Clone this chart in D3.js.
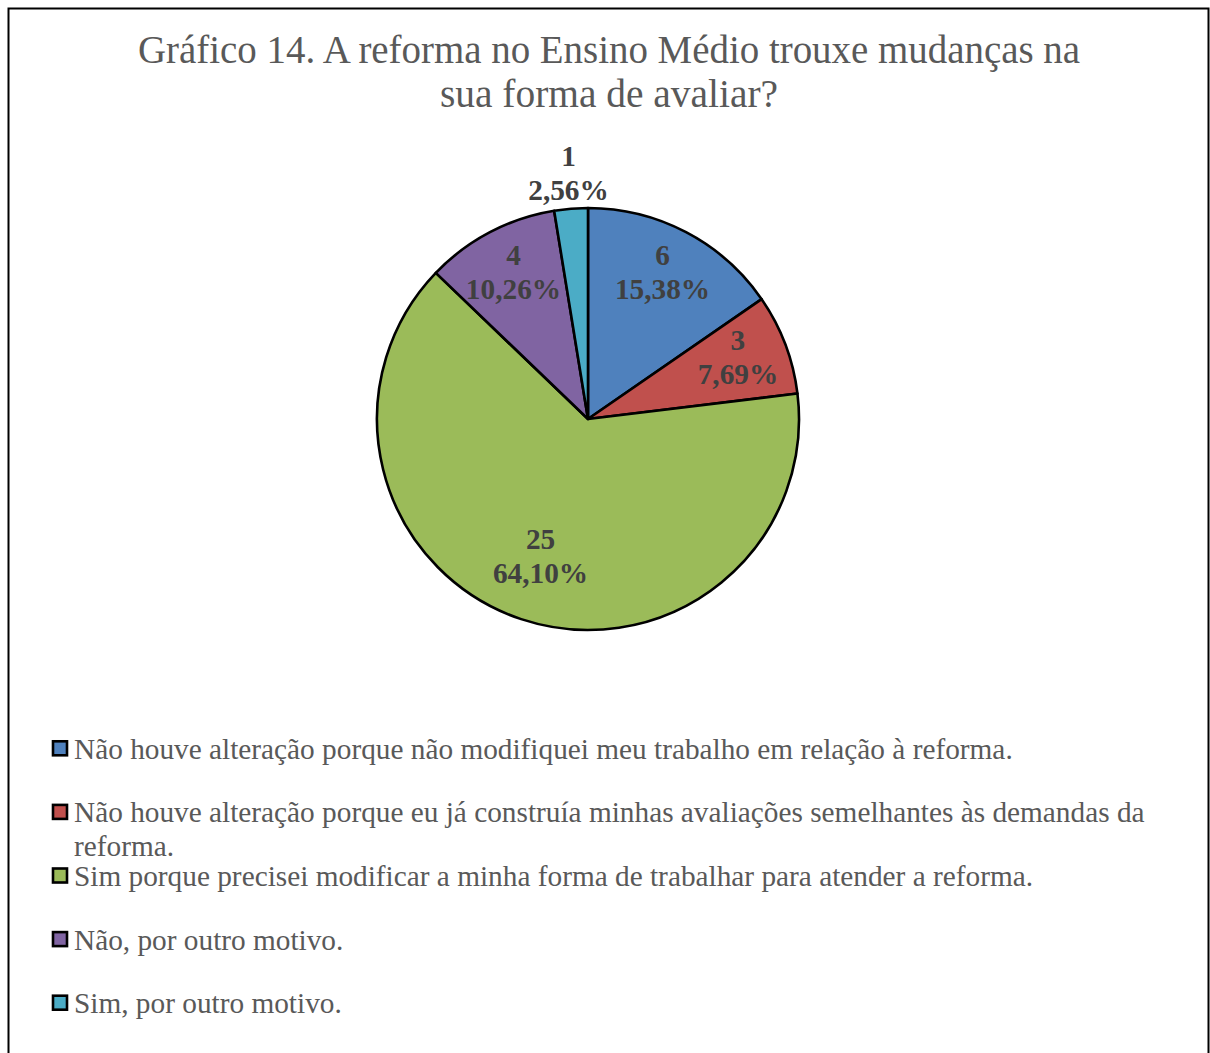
<!DOCTYPE html>
<html><head><meta charset="utf-8">
<script src="https://cdn.jsdelivr.net/npm/d3@7"></script>
<style>html,body{margin:0;padding:0;background:#fff;}</style>
</head><body>
<svg id="chart" width="1210" height="1053"></svg>
<script>
const titleLines = ["Gráfico 14. A reforma no Ensino Médio trouxe mudanças na", "sua forma de avaliar?"];
const categories = [
  "Não houve alteração porque não modifiquei meu trabalho em relação à reforma.",
  "Não houve alteração porque eu já construía minhas avaliações semelhantes às demandas da reforma.",
  "Sim porque precisei modificar a minha forma de trabalhar para atender a reforma.",
  "Não, por outro motivo.",
  "Sim, por outro motivo."
];
const counts = [6, 3, 25, 4, 1];
const percentLabels = ["15,38%", "7,69%", "64,10%", "10,26%", "2,56%"];
const colors = ["#4F81BD", "#C0504D", "#9BBB59", "#8064A2", "#4BACC6"];

const svg = d3.select("#chart");
svg.append("rect").attr("x", 8.5).attr("y", 8.5).attr("width", 1200).attr("height", 1060)
  .attr("fill", "#fff").attr("stroke", "#000").attr("stroke-width", 2);

// title
const titleWidths = [942, 338];
svg.selectAll("text.title").data(titleLines).join("text")
  .attr("class", "title")
  .attr("x", 609).attr("y", (d, i) => 63 + i * 44)
  .attr("text-anchor", "middle")
  .attr("font-family", "'Liberation Serif', serif")
  .attr("font-size", 40)
  .attr("fill", "#595959")
  .attr("textLength", (d, i) => titleWidths[i])
  .attr("lengthAdjust", "spacingAndGlyphs")
  .text(d => d);

// pie
const cx = 588, cy = 419, R = 211;
const total = d3.sum(counts);
const pie = d3.pie().sort(null).value(d => d)(counts);
const arc = d3.arc().innerRadius(0).outerRadius(R);
const g = svg.append("g").attr("transform", `translate(${cx},${cy})`);
g.selectAll("path").data(pie).join("path")
  .attr("d", arc)
  .attr("fill", (d, i) => colors[i])
  .attr("stroke", "#000").attr("stroke-width", 2.6).attr("stroke-linejoin", "round");

function labelRadius(d) {
  const share = d.value / total;
  if (share < 0.05) return R + 31;      // outside for tiny slices
  if (share > 0.5) return R * 0.71;     // large slice sits a little inward
  return R * 0.76;
}
const labels = g.selectAll("g.lbl").data(pie).join("g").attr("class", "lbl")
  .attr("transform", d => {
    const r = labelRadius(d);
    const c = d3.arc().innerRadius(r).outerRadius(r).centroid(d);
    return `translate(${c[0]},${c[1]})`;
  });
labels.append("text").attr("y", -12).attr("text-anchor", "middle")
  .attr("font-family", "'Liberation Serif', serif").attr("font-weight", "bold")
  .attr("font-size", 29.3).attr("fill", "#404040")
  .text((d, i) => counts[i]);
labels.append("text").attr("y", 22).attr("text-anchor", "middle")
  .attr("font-family", "'Liberation Serif', serif").attr("font-weight", "bold")
  .attr("font-size", 29.3).attr("fill", "#404040")
  .text((d, i) => percentLabels[i]);

// legend
const legY = d3.scaleBand().domain(d3.range(categories.length)).range([717, 1035]);
const leg = svg.selectAll("g.leg").data(categories).join("g").attr("class", "leg")
  .attr("transform", (d, i) => `translate(0,${legY(i) + legY.bandwidth() / 2})`);
leg.append("rect").attr("x", 53).attr("y", -7.5).attr("width", 14).attr("height", 14)
  .attr("fill", (d, i) => colors[i]).attr("stroke", "#000").attr("stroke-width", 2.6);
leg.each(function (d) {
  const t = d3.select(this).append("text")
    .attr("font-family", "'Liberation Serif', serif").attr("font-size", 29.3)
    .attr("fill", "#595959");
  const words = d.split(" ");
  let line = [], lineNo = 0;
  let ts = t.append("tspan").attr("x", 74).attr("y", 10);
  for (const w of words) {
    line.push(w);
    ts.text(line.join(" "));
    if (ts.node().getComputedTextLength() > 1085 && line.length > 1) {
      line.pop();
      ts.text(line.join(" "));
      line = [w];
      lineNo++;
      ts = t.append("tspan").attr("x", 74).attr("y", 10 + lineNo * 34).text(w);
    }
  }
});
</script>
</body></html>
